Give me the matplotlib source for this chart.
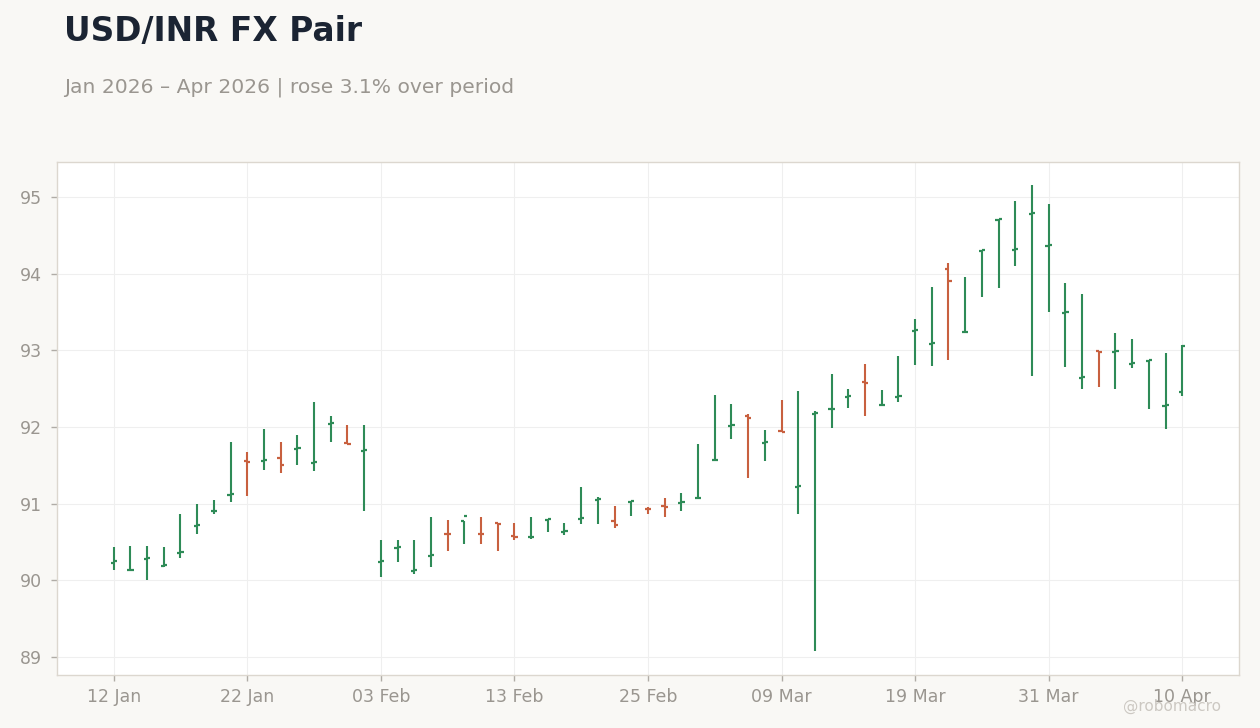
import matplotlib
matplotlib.use("Agg")
import matplotlib.pyplot as plt
import pandas as pd
import numpy as np

# ---- data ----
dates = pd.bdate_range("2026-01-12", "2026-04-10")
opens = [90.23, 90.13, 90.28, 90.19, 90.36, 90.71, 90.90, 91.11, 91.56, 91.56,
         91.60, 91.71, 91.53, 92.04, 91.79, 91.69, 90.24, 90.42, 90.12, 90.32,
         90.61, 90.77, 90.61, 90.75, 90.58, 90.56, 90.79, 90.63, 90.80, 91.05,
         90.77, 91.02, 90.935, 90.97, 91.01, 91.07, 91.565, 92.01, 92.14, 91.79,
         91.945, 91.22, 92.17, 92.23, 92.39, 92.59, 92.285, 92.39, 93.25, 93.08,
         94.06, 93.235, 94.30, 94.70, 94.31, 94.78, 94.36, 93.49, 92.64, 92.99,
         92.98, 92.82, 92.865, 92.28, 92.45]
highs = [90.44, 90.45, 90.45, 90.43, 90.87, 91.00, 91.05, 91.81, 91.67, 91.98,
         91.80, 91.89, 92.33, 92.14, 92.02, 92.03, 90.53, 90.53, 90.52, 90.83,
         90.79, 90.78, 90.82, 90.75, 90.75, 90.83, 90.80, 90.75, 91.22, 91.09,
         90.97, 91.04, 90.96, 91.07, 91.14, 91.78, 92.42, 92.30, 92.17, 91.96,
         92.35, 92.47, 92.21, 92.69, 92.49, 92.82, 92.48, 92.93, 93.41, 93.82,
         94.14, 93.95, 94.31, 94.71, 94.95, 95.15, 94.91, 93.88, 93.74, 92.99,
         93.22, 93.15, 92.87, 92.96, 93.07]
lows = [90.13, 90.13, 90.00, 90.18, 90.29, 90.60, 90.87, 91.02, 91.10, 91.44,
        91.40, 91.51, 91.42, 91.81, 91.78, 90.91, 90.04, 90.24, 90.08, 90.18,
        90.38, 90.47, 90.47, 90.38, 90.52, 90.535, 90.63, 90.59, 90.74, 90.74,
        90.68, 90.84, 90.86, 90.82, 90.90, 91.07, 91.565, 91.84, 91.33, 91.56,
        91.94, 90.87, 89.08, 91.99, 92.25, 92.15, 92.285, 92.33, 92.81, 92.79,
        92.87, 93.235, 93.69, 93.81, 94.10, 92.66, 93.50, 92.78, 92.49, 92.52,
        92.50, 92.77, 92.23, 91.97, 92.40]
closes = [90.25, 90.14, 90.29, 90.20, 90.37, 90.72, 90.91, 91.12, 91.55, 91.57,
          91.51, 91.72, 91.54, 92.05, 91.78, 91.70, 90.25, 90.43, 90.13, 90.33,
          90.60, 90.835, 90.60, 90.74, 90.57, 90.57, 90.80, 90.64, 90.81, 91.06,
          90.72, 91.035, 90.93, 90.96, 91.02, 91.08, 91.575, 92.02, 92.12, 91.80,
          91.94, 91.23, 92.18, 92.24, 92.40, 92.57, 92.29, 92.40, 93.26, 93.09,
          93.90, 93.24, 94.31, 94.71, 94.32, 94.79, 94.37, 93.50, 92.65, 92.98,
          92.99, 92.83, 92.87, 92.29, 93.05]
tick_every = 8
title = "USD/INR FX Pair"
subtitle = "Jan 2026 \u2013 Apr 2026 | rose 3.1% over period"
watermark = "@robomacro"

# ---- style ----
UP = "#2e8b57"
DOWN = "#c8603f"
BG = "#f9f8f5"

fig = plt.figure(figsize=(12.6, 7.28), dpi=100, facecolor=BG)
ax = fig.add_axes([0.0452, 0.0728, 0.9381, 0.7047])
ax.set_facecolor("white")

x = np.arange(len(dates))
o = np.array(opens); h = np.array(highs); l = np.array(lows); c = np.array(closes)
cols = [UP if cc >= oo else DOWN for oo, cc in zip(o, c)]
tw = 0.19
ax.vlines(x, l, h, colors=cols, linewidth=1.5, zorder=3)
ax.hlines(o, x - tw, x, colors=cols, linewidth=1.6, zorder=3)
ax.hlines(c, x, x + tw, colors=cols, linewidth=1.6, zorder=3)

ax.set_xlim(-3.4, 67.4)
ax.set_ylim(88.766, 95.456)
ax.set_yticks([89, 90, 91, 92, 93, 94, 95])
tick_pos = x[::tick_every]
ax.set_xticks(tick_pos)
ax.set_xticklabels([dates[i].strftime("%d %b") for i in tick_pos])

ax.grid(True, color="#efefef", linewidth=0.8, zorder=0)
ax.set_axisbelow(True)
for s in ax.spines.values():
    s.set_color("#dcd7cf")
    s.set_linewidth(1.0)
ax.tick_params(axis="both", colors="#b0aca6", labelcolor="#9a9690",
               labelsize=12.5, length=4.5, width=1.0)
ax.tick_params(axis="y", pad=6)
ax.tick_params(axis="x", pad=5)

fig.text(0.0505, 0.9437, title, fontsize=23.7, fontweight="bold",
         color="#1b2433", ha="left", va="baseline")
fig.text(0.0505, 0.8732, subtitle, fontsize=14.6, color="#9a9690",
         ha="left", va="baseline")
fig.text(0.969, 0.023, watermark, fontsize=11, color="#ccc8c2",
         ha="right", va="baseline")

fig.savefig("out.png", dpi=100, facecolor=BG)
